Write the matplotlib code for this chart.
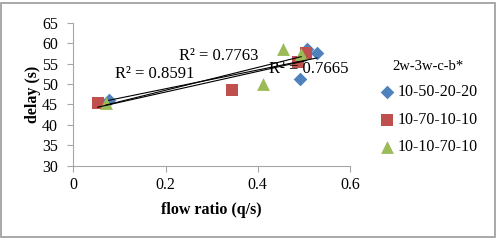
import numpy as np
import matplotlib.pyplot as plt
from matplotlib.patches import Rectangle

plt.rcParams['font.family'] = ['Liberation Serif', 'DejaVu Serif']

# data
x_blue = [0.077, 0.506, 0.528, 0.492]
y_blue = [46.2, 58.7, 57.6, 51.3]
x_red = [0.053, 0.344, 0.487, 0.505]
y_red = [45.4, 48.6, 55.4, 57.6]
x_green = [0.071, 0.454, 0.411, 0.494]
y_green = [45.4, 58.6, 50.1, 57.4]

labels = ['10-50-20-20', '10-70-10-10', '10-10-70-10']
r2_text = ['R² = 0.7665', 'R² = 0.8591', 'R² = 0.7763']
r2_pos = [(0.425, 53.6), (0.090, 52.4), (0.230, 56.9)]

colors = ['#4F81BD', '#C0504D', '#9BBB59']
markers = ['D', 's', '^']
msizes = [48, 85, 85]

fig = plt.figure(figsize=(4.98, 2.4), dpi=100)
ax = fig.add_axes([0.147, 0.31, 0.556, 0.595])

# outer chart border
fig.patches.append(Rectangle((0.003, 0.013), 0.990, 0.975, transform=fig.transFigure,
                             fill=False, edgecolor='#9a9a9a', linewidth=1.2))

series = [(x_blue, y_blue), (x_red, y_red), (x_green, y_green)]
for (xs, ys), c, m, s, lab in zip(series, colors, markers, msizes, labels):
    ax.scatter(xs, ys, color=c, marker=m, s=s, label=lab, zorder=3, linewidths=0)

# linear trendlines
for xs, ys in series:
    k, b = np.polyfit(xs, ys, 1)
    xx = np.array([min(xs), max(xs)])
    ax.plot(xx, k * xx + b, color='black', linewidth=0.8, zorder=4)

for t, (px, py) in zip(r2_text, r2_pos):
    ax.text(px, py, t, fontsize=12, va='center', ha='left', zorder=5)

ax.set_xlim(0, 0.6)
ax.set_ylim(30, 65)
ax.set_xticks([0, 0.2, 0.4, 0.6])
ax.set_xticklabels(['0', '0.2', '0.4', '0.6'])
ax.set_yticks(range(30, 66, 5))
ax.tick_params(labelsize=11.5, length=4, color='#a6a6a6', width=0.8)
ax.tick_params(axis='y', pad=7)
ax.tick_params(axis='x', pad=4)
for sp in ['top', 'right']:
    ax.spines[sp].set_visible(False)
for sp in ['left', 'bottom']:
    ax.spines[sp].set_color('#a6a6a6')
    ax.spines[sp].set_linewidth(0.8)

ax.set_xlabel('flow ratio (q/s)', fontsize=11.5, fontweight='bold', labelpad=7)
ax.set_ylabel('delay (s)', fontsize=11.5, fontweight='bold', labelpad=1)

leg = ax.legend(title='2w-3w-c-b*', loc='upper left', bbox_to_anchor=(1.1, 0.74),
                frameon=False, fontsize=11.5, title_fontsize=10.5, handletextpad=0.05,
                labelspacing=0.72, handlelength=1.2, borderaxespad=0, borderpad=0)

fig.savefig('out.png', dpi=100)
